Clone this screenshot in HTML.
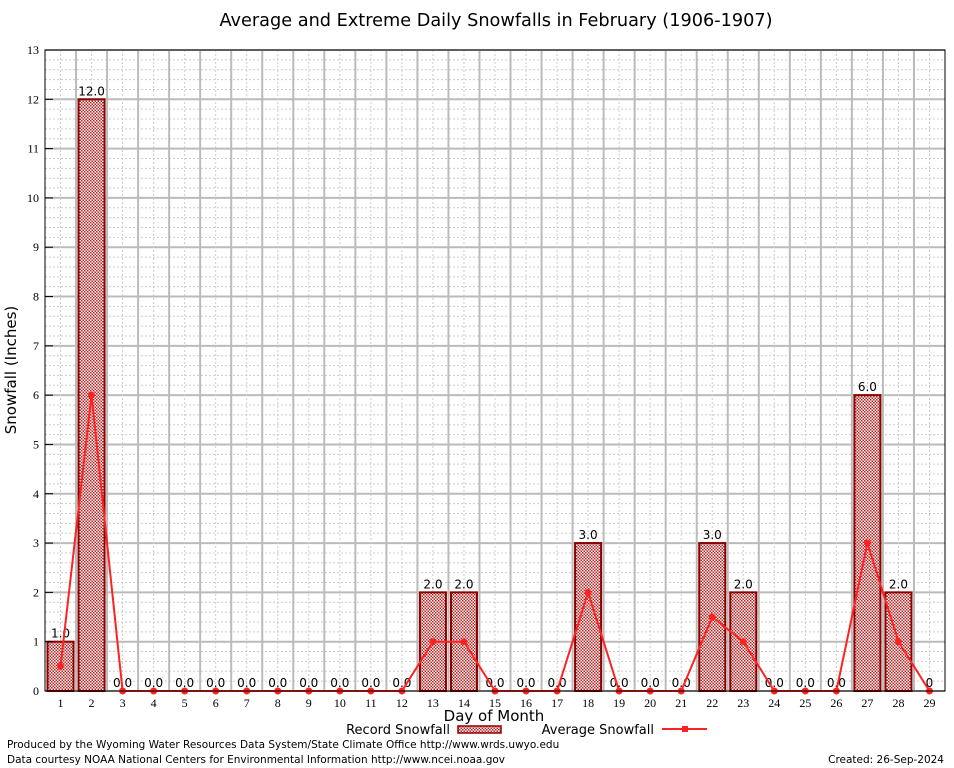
<!DOCTYPE html>
<html><head><meta charset="utf-8"><style>
body{margin:0;background:#fff;font-family:"DejaVu Sans",sans-serif}
svg{display:block}
</style></head><body>
<svg id="chart" width="954" height="768" xmlns="http://www.w3.org/2000/svg" font-family="DejaVu Sans, sans-serif">
<defs>
<pattern id="chk" width="3" height="3" patternUnits="userSpaceOnUse">
<rect width="3" height="3" fill="#fff"/>
<rect width="1.5" height="1.5" fill="#b22"/>
<rect x="1.5" y="1.5" width="1.5" height="1.5" fill="#b22"/>
</pattern>
</defs>
<rect width="954" height="768" fill="#fff"/>
<text x="496" y="26" font-size="17.7" text-anchor="middle">Average and Extreme Daily Snowfalls in February (1906-1907)</text>
<g id="grid"></g>
<g id="bars"></g>
<g id="line"></g>
<rect x="45" y="50" width="900" height="641" fill="none" stroke="#000" stroke-width="1"/>
<g id="axes" font-size="12"></g>
<text transform="translate(16,370) rotate(-90)" font-size="15" text-anchor="middle">Snowfall (Inches)</text>
<text x="494" y="721" font-size="15" text-anchor="middle">Day of Month</text>
<g font-size="13">
<text x="450" y="734" text-anchor="end">Record Snowfall</text>
<rect x="458" y="726" width="43" height="7" fill="url(#chk)" stroke="#8b0000" stroke-width="1.5"/>
<text x="654" y="734" text-anchor="end">Average Snowfall</text>
<line x1="662" y1="729" x2="707" y2="729" stroke="#f22" stroke-width="2"/>
<rect x="682" y="726" width="6" height="6" fill="#f22"/>
</g>
<text x="7" y="748" font-size="10.5">Produced by the Wyoming Water Resources Data System/State Climate Office http://www.wrds.uwyo.edu</text>
<text x="7" y="763" font-size="10.5">Data courtesy NOAA National Centers for Environmental Information http://www.ncei.noaa.gov</text>
<text x="944" y="763" font-size="10.5" text-anchor="end">Created:  26-Sep-2024</text>
</svg>
<script>
const days=[1,2,3,4,5,6,7,8,9,10,11,12,13,14,15,16,17,18,19,20,21,22,23,24,25,26,27,28,29];
const recordSnow=[1,12,0,0,0,0,0,0,0,0,0,0,2,2,0,0,0,3,0,0,0,3,2,0,0,0,6,2,0];
const avgSnow=[0.5,6,0,0,0,0,0,0,0,0,0,0,1,1,0,0,0,2,0,0,0,1.5,1,0,0,0,3,1,0];
const yTicks=[0,1,2,3,4,5,6,7,8,9,10,11,12,13];
const NS="http://www.w3.org/2000/svg";
const L=45,R=945,T=50,B=691,ymax=13;
const slot=(R-L)/days.length;
const xs=d=>L+(d-0.5)*slot;
const ys=v=>B-v/ymax*(B-T);
function mk(tag,attrs,parent){const e=document.createElementNS(NS,tag);for(const k in attrs)e.setAttribute(k,attrs[k]);document.getElementById(parent).appendChild(e);return e;}
for(let v=0;v<ymax;v+=0.2){const y=ys(v);
 const major=Math.abs(v-Math.round(v))<1e-6;
 const g=mk('line',{x1:L,x2:R,y1:y,y2:y,stroke:major?'#bbb':'#ccc','stroke-width':major?2:1,'stroke-dasharray':major?'':'2,2'},'grid');
 
 }
days.forEach((d,i)=>{
 const g=mk('line',{x1:xs(d),x2:xs(d),y1:T,y2:B,stroke:'#ccc','stroke-width':1,'stroke-dasharray':'2,2'},'grid');
 
 
 if(i>0){const b=mk('line',{x1:L+i*slot,x2:L+i*slot,y1:T,y2:B,stroke:'#bbb','stroke-width':2},'grid');
 
 }
});
days.forEach((d,i)=>{
 const v=recordSnow[i];
 if(v>0){const r=mk('rect',{x:xs(d)-13,y:ys(v),width:26,height:B-ys(v),fill:'url(#chk)',stroke:'#8b0000','stroke-width':2},'bars');
 
 }
 const t=mk('text',{x:xs(d),y:ys(v)-4,'font-size':12,'text-anchor':'middle'},'bars');
 t.textContent=(d===29)?String(v):v.toFixed(1);
 
 
});
const pts=days.map((d,i)=>xs(d)+','+ys(avgSnow[i])).join(' ');
const pl=mk('polyline',{points:pts,fill:'none',stroke:'#f22','stroke-width':2},'line');


days.forEach((d,i)=>{const c=mk('circle',{cx:xs(d),cy:ys(avgSnow[i]),r:3.5,fill:'#f22'},'line');
 
 });
yTicks.forEach(v=>{const t=mk('text',{x:L-6,y:ys(v)+4,'text-anchor':'end','font-family':'Liberation Serif, serif'},'axes');t.textContent=v;
 
 
 const tk=mk('line',{x1:L,x2:L+8,y1:ys(v),y2:ys(v),stroke:'#000'},'axes');
 
 });
days.forEach(d=>{const t=mk('text',{x:xs(d),y:B+16,'text-anchor':'middle','font-family':'Liberation Serif, serif'},'axes');t.textContent=d;
 
 });
</script>
</body></html>
